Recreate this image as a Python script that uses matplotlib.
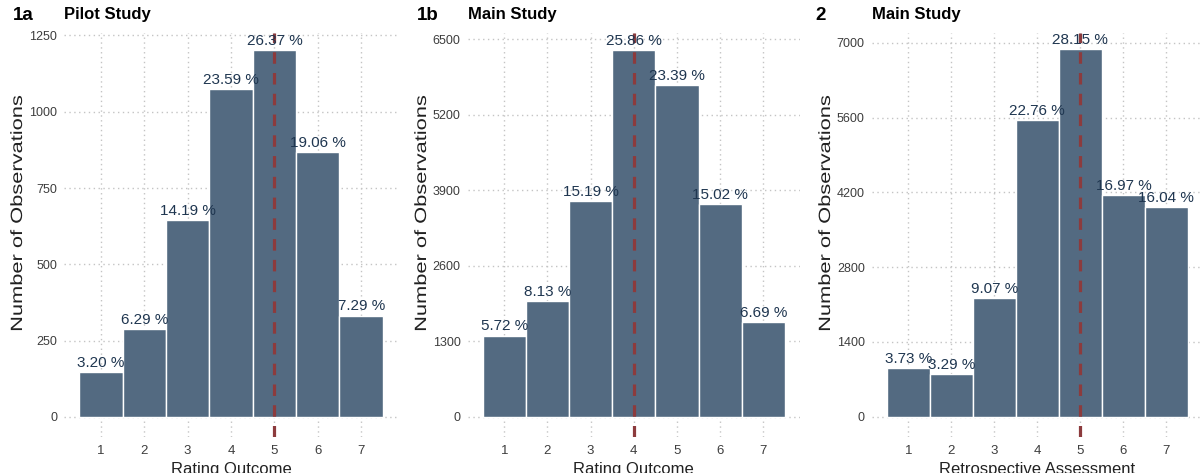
import matplotlib.pyplot as plt
import numpy as np
from matplotlib.textpath import TextPath
from matplotlib.patches import PathPatch
from matplotlib.font_manager import FontProperties
from matplotlib.transforms import Affine2D, IdentityTransform

plt.rcParams['font.family'] = ['Liberation Sans', 'DejaVu Sans']

ratings = [1, 2, 3, 4, 5, 6, 7]

# share of observations per rating (%) and sample sizes
pilot_pct = [3.20, 6.29, 14.19, 23.59, 26.37, 19.06, 7.29]
pilot_n = 4555
main_pct = [5.72, 8.13, 15.19, 25.86, 23.39, 15.02, 6.69]
main_n = 24430
retro_pct = [3.73, 3.29, 9.07, 22.76, 28.15, 16.97, 16.04]
retro_n = 24430

# medians (dashed line)
pilot_median = 5
main_median = 4
retro_median = 5

pilot_ticks = [0, 250, 500, 750, 1000, 1250]
main_ticks = [0, 1300, 2600, 3900, 5200, 6500]
retro_ticks = [0, 1400, 2800, 4200, 5600, 7000]

bar_col = '#536a81'
line_col = '#8c3b3d'
lab_col = '#1f3650'
grid_col = '#c4c4c4'

panels = [
    dict(tag='1a', title='Pilot Study', pct=pilot_pct, n=pilot_n, med=pilot_median,
         ticks=pilot_ticks, ylim=(-66, 1258), xlab='Rating Outcome',
         rect=[64, 398], tagx=13, ylab_x=22),
    dict(tag='1b', title='Main Study', pct=main_pct, n=main_n, med=main_median,
         ticks=main_ticks, ylim=(-350, 6608), xlab='Rating Outcome',
         rect=[467.6, 800], tagx=417, ylab_x=426),
    dict(tag='2', title='Main Study', pct=retro_pct, n=retro_n, med=retro_median,
         ticks=retro_ticks, ylim=(-380, 7182), xlab='Retrospective Assessment',
         rect=[871.7, 1203], tagx=815, ylab_x=830),
]

W, H = 1203, 473
fig = plt.figure(figsize=(W / 100, H / 100), dpi=100)


def stretched_ylabel(text, x_base, y_mid, size=16.3, stretch=1.34):
    # rotated axis title drawn as a path, widened along its length
    tp = TextPath((0, 0), text, size=size, prop=FontProperties(family='Liberation Sans'))
    ext = tp.get_extents()
    tr = (Affine2D().translate(-(ext.x0 + ext.x1) / 2, 0).scale(stretch, 1)
          .rotate_deg(90).translate(x_base, H - y_mid))
    patch = PathPatch(tr.transform_path(tp), facecolor='#222222', edgecolor='none',
                      transform=IdentityTransform())
    fig.add_artist(patch)


top_px, bot_px = 33, 437
for p in panels:
    l, r = p['rect']
    ax = fig.add_axes([l / W, (H - bot_px) / H, (r - l) / W, (bot_px - top_px) / H])
    counts = np.array(p['pct']) / 100 * p['n']
    ax.bar(ratings, counts, width=1.0, color=bar_col, edgecolor='white',
           linewidth=1.0, zorder=2)
    ax.axvline(p['med'], color=line_col, lw=2.3, dashes=(3.6, 2.9), zorder=3)
    for x, c, pc in zip(ratings, counts, p['pct']):
        ax.annotate('%.2f %%' % pc, (x, c), xytext=(0, 1.5), textcoords='offset points',
                    ha='center', va='bottom', fontsize=11, color=lab_col, zorder=4)

    ax.set_xlim(0.15, 7.85)
    ax.set_ylim(*p['ylim'])
    ax.set_xticks(ratings)
    ax.set_yticks(p['ticks'])
    ax.grid(True, color=grid_col, linestyle=(0, (1, 2.5)), linewidth=1.0, zorder=0)
    ax.set_axisbelow(True)
    for s in ax.spines.values():
        s.set_visible(False)
    ax.tick_params(length=0)
    ax.tick_params(axis='y', labelsize=9, labelcolor='#3d3d3d', pad=5)
    ax.tick_params(axis='x', labelsize=9.5, labelcolor='#3d3d3d', pad=6)
    ax.set_xlabel(p['xlab'], fontsize=12, color='#222222', labelpad=3)

    stretched_ylabel('Number of Observations', p['ylab_x'], 213)

    fig.text(p['tagx'] / W, 1 - 20 / H, p['tag'], fontsize=13.5, fontweight='bold',
             ha='left', va='baseline')
    fig.text(l / W, 1 - 19.5 / H, p['title'], fontsize=12, fontweight='bold',
             ha='left', va='baseline')

fig.savefig('out.png', dpi=100)
